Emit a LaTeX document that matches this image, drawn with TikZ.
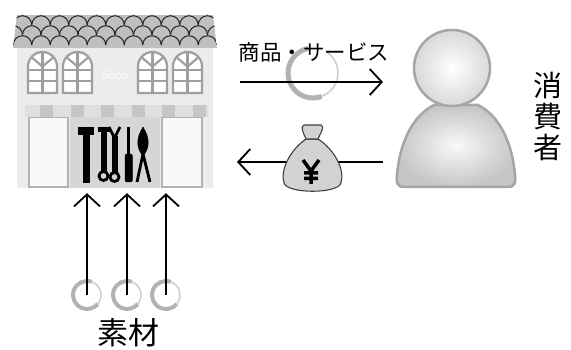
\documentclass[tikz,border=0pt]{standalone}
\usepackage{fontspec}
\setmainfont{Noto Sans CJK JP}
\usetikzlibrary{arrows.meta, calc}

\tikzset{
	flow/.style={line width=1.8pt, -{Straight Barb[length=12pt,width=26pt,line width=1.8pt]}},
	thickring/.style={draw=gray!60, line width=5pt},
	thinring/.style={draw=gray!40, line width=1.5pt},
	frame/.style={draw=gray!75, line width=2.2pt},
	tool/.style={fill=black, draw=black}
}

\begin{document}
\begin{tikzpicture}[x=1pt, y=-1pt]
	\useasboundingbox (0,0) rectangle (571,350);
	
	% shop front
	\node[inner sep=0, minimum width=196pt, minimum height=140pt] (shop) at (115,118) {};
	\fill[gray!15] (17,48) rectangle (213,188);
	\fill[gray!5, draw=gray!60, line width=1.5pt] (29,117) rectangle (68,187);
	\fill[gray!5, draw=gray!60, line width=1.5pt] (162,117) rectangle (202,187);
	\fill[gray!32] (70,117) rectangle (160,188);
	
	% awning
	\fill[gray!25] (25,105) rectangle (208,117);
	\foreach \i in {0,...,5}
		\fill[gray!45] (40+30.5*\i,105) rectangle ++(13,12);
	
	% roof tiles
	\begin{scope}
		\clip (17,15) -- (213,15) -- (217,48) -- (13,48) -- cycle;
		\fill[gray!50] (13,15) rectangle (217,48);
		\foreach \r in {0,1,2,3}
			\foreach \i in {0,...,12}
				\draw[gray!30!black, line width=1pt] ({4+18.5*\i+9.25*mod(\r,2)},{15+10*\r}) arc[start angle=180, end angle=0, radius=9.25pt];
	\end{scope}
	
	% arched windows
	\foreach \wx in {28,63,138,173} {
		\fill[white] (\wx,93) -- (\wx,66.5) arc[start angle=180, end angle=0, radius=14.5pt] -- (\wx+29,93) -- cycle;
		\draw[frame] (\wx+14.5,52) -- (\wx+14.5,93);
		\draw[frame] (\wx,70) -- (\wx+29,70) (\wx,81) -- (\wx+29,81);
		\draw[frame] (\wx+14.5,66.5) -- ++(140:14.5pt) (\wx+14.5,66.5) -- ++(40:14.5pt);
		\draw[frame] (\wx,93) -- (\wx,66.5) arc[start angle=180, end angle=0, radius=14.5pt] -- (\wx+29,93) -- cycle;
	}
	\node[text=white, font=\sffamily\fontsize{13}{13}\selectfont] (shopsign) at (115,76) {Shop};
	
	% tools in the doorway
	\fill[tool] (78,127) rectangle (93,134);
	\fill[tool] (83.5,127) rectangle (89.5,182);
	\fill[tool] (101,127) rectangle (106,171);
	\fill[tool] (98,127) rectangle (109,131);
	\draw[black, line width=2.8pt] (103.5,176) circle[radius=4.5pt];
	\fill[tool] (112,136) rectangle (117,172);
	\draw[black, line width=2.8pt] (109,127) -- (114.5,138) -- (120,127);
	\draw[black, line width=2.8pt] (114.5,177) circle[radius=4.5pt];
	\fill[tool] (127.5,127) rectangle (129.5,155);
	\fill[tool, rounded corners=2pt] (125,154) rectangle (132.5,182);
	\fill[tool] (143,127) .. controls (150,138) and (150,148) .. (143,156) .. controls (136,148) and (136,138) .. (143,127) -- cycle;
	\draw[black, line width=2.8pt] (143,154) -- (137,182) (143,154) -- (150,182);
	
	% goods and services
	\coordinate (sellA) at (240,82);
	\coordinate (sellB) at (383,82);
	\draw[thickring] ($(313,73)+(100:25pt)$) arc[start angle=100, end angle=290, radius=25pt];
	\draw[thinring] ($(313,73)+(290:25pt)$) arc[start angle=290, end angle=420, radius=25pt];
	\node[font=\fontsize{21.5}{21.5}\selectfont, inner sep=0] (goods) at (314,52) {商品・サービス};
	\draw[flow] (sellA) -- (sellB);
	
	% payment
	\coordinate (payA) at (383,162);
	\coordinate (payB) at (237,162);
	\draw[flow] (payA) -- (payB);
	\node[minimum width=60pt, minimum height=66pt] (bag) at (312,159) {};
	\filldraw[fill=gray!35, draw=black!75, line width=1.1pt]
		(306,139) .. controls (290,150) and (280,170) .. (284,183)
		.. controls (287,194) and (338,194) .. (341,183)
		.. controls (345,170) and (335,150) .. (318,139) -- cycle;
	\filldraw[fill=gray!35, draw=black!75, line width=1.1pt]
		(306,139) .. controls (303,132) and (300,127) .. (304,125) -- (321,125)
		.. controls (325,127) and (321,132) .. (318,139) -- cycle;
	\draw[black, line width=3.5pt] (303,160) -- (311,171) -- (319,160) (311,171) -- (311,184)
		(304,173) -- (318,173) (304,178.5) -- (318,178.5);
	
	% consumer
	\node[minimum width=120pt, minimum height=160pt] (person) at (456,107) {};
	\shade[inner color=gray!5, outer color=gray!45] (404,187) -- (508,187) .. controls (515,187) and (516,182) .. (515,175)
		.. controls (512,140) and (498,115) .. (478,105) -- (434,105)
		.. controls (414,115) and (400,140) .. (397,175)
		.. controls (396,182) and (397,187) .. (404,187) -- cycle;
	\draw[gray!70, line width=2.5pt] (404,187) -- (508,187) .. controls (515,187) and (516,182) .. (515,175)
		.. controls (512,140) and (498,115) .. (478,105) -- (434,105)
		.. controls (414,115) and (400,140) .. (397,175)
		.. controls (396,182) and (397,187) .. (404,187) -- cycle;
	\shade[inner color=white, outer color=gray!30] (452,68) circle[radius=38pt];
	\draw[gray!70, line width=2.5pt] (452,68) circle[radius=38pt];
	\node[font=\fontsize{29}{31}\selectfont, align=center, inner sep=0] (consumer) at (548,116) {消\\費\\者};
	
	% raw materials
	\foreach \i/\mx in {1/87,2/127,3/166} {
		\node[circle, minimum size=28pt, inner sep=0] (m\i) at (\mx,295) {};
		\draw[thickring, line width=4pt] ($(m\i)+(70:14pt)$) arc[start angle=70, end angle=320, radius=14pt];
		\draw[thinring] ($(m\i)+(320:14pt)$) arc[start angle=320, end angle=430, radius=14pt];
		\draw[flow, shorten >=5pt] (m\i.center) -- (m\i.center |- shop.south);
	}
	\node[font=\fontsize{31}{31}\selectfont, inner sep=0] (material) at (128,333) {素材};
\end{tikzpicture}
\end{document}
